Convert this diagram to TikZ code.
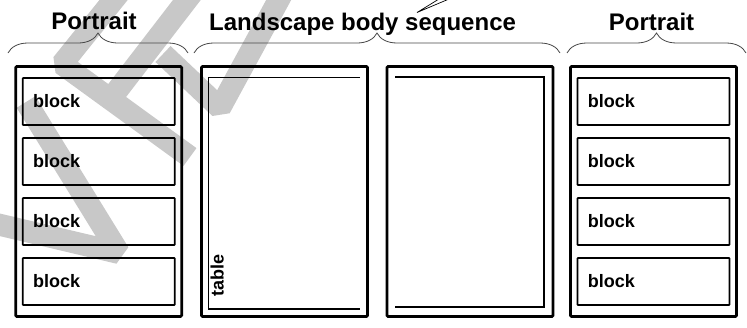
\documentclass[tikz,border=0pt]{standalone}
\usepackage{fontspec}
\setmainfont{Liberation Sans}
\usetikzlibrary{decorations.pathreplacing}
\definecolor{wmgray}{RGB}{200,200,200}
\definecolor{bracegray}{RGB}{70,70,70}
\begin{document}
\begin{tikzpicture}[x=1pt,y=-1pt,
  wmark/.style={draw=wmgray, line width=22pt, line join=bevel, line cap=butt},
  pagebox/.style={draw, line width=2.8pt, rounded corners=1.2pt, minimum width=166pt, minimum height=250pt, inner sep=0pt},
  blockbox/.style={draw, line width=1.7pt, rounded corners=0.6pt, minimum width=152pt, minimum height=47pt, text width=131pt, inner xsep=10.5pt, inner ysep=0pt, align=left, font=\fontsize{18}{20}\selectfont\bfseries},
  lbl/.style={inner sep=0pt, font=\fontsize{24}{28}\selectfont\bfseries},
  framelines/.style={line width=1.6pt},
  bracestyle/.style={draw=bracegray, line width=0.8pt, decorate, decoration={brace, amplitude=20pt}},
  pointer/.style={line width=0.7pt}]
\useasboundingbox (0,0) rectangle (747,327);
% watermark
\begin{scope}
\clip (0,0) rectangle (747,327);
\draw[wmark] (26,102) -- (119,253) -- (-12,222);
\draw[wmark] (120,-8) -- (62,64) -- (190,157);
\draw[wmark] (193,-8) -- (106,105);
\draw[wmark] (163,54) -- (220,108) -- (283,-8);
\end{scope}
% labels
\node[lbl, anchor=base] (p1) at (94,29.5) {Portrait};
\node[lbl, anchor=base west] (ls) at (209,30) {Landscape body sequence};
\node[lbl, anchor=base] (p2) at (651.5,30) {Portrait};
% braces
\coordinate (b1s) at (8,53); \coordinate (b1e) at (188,53);
\coordinate (b2s) at (194,53); \coordinate (b2e) at (560,53);
\coordinate (b3s) at (567,53); \coordinate (b3e) at (746,53);
\draw[bracestyle] (b1s) -- (b1e);
\draw[bracestyle] (b2s) -- (b2e);
\draw[bracestyle] (b3s) -- (b3e);
% pointer near "sequence"
\coordinate (ptip) at (417,12.5);
\coordinate (pa) at (439,-1);
\coordinate (pb) at (449,-1);
\draw[pointer] (pa) -- (ptip) -- (pb);
% pages
\node[pagebox] (pg1) at (98.7,191.5) {};
\node[pagebox] (pg2) at (284.5,191.5) {};
\node[pagebox] (pg3) at (470,191.5) {};
\node[pagebox] (pg4) at (653.5,191.5) {};
% left portrait blocks
\node[blockbox] (la) at (98.7,101.5) {block};
\node[blockbox] (lb) at (98.7,161.5) {block};
\node[blockbox] (lc) at (98.7,221.5) {block};
\node[blockbox] (ld) at (98.7,281.5) {block};
% right portrait blocks
\node[blockbox] (ra) at (653.4,101.5) {block};
\node[blockbox] (rb) at (653.4,161.5) {block};
\node[blockbox] (rc) at (653.4,221.5) {block};
\node[blockbox] (rd) at (653.4,281.5) {block};
% landscape frame 1
\coordinate (f1a) at (360,77.5); \coordinate (f1b) at (208.5,77.5);
\coordinate (f1c) at (208.5,309); \coordinate (f1d) at (360,309);
\draw[framelines] (f1a) -- (f1b) -- (f1c) -- (f1d);
\node[rotate=90, anchor=base west, inner sep=0pt, font=\fontsize{18}{20}\selectfont\bfseries] (tbl) at (223.5,297) {table};
% landscape frame 2
\coordinate (f2a) at (395,77); \coordinate (f2b) at (544,77);
\coordinate (f2c) at (544,307); \coordinate (f2d) at (395,307);
\draw[framelines] (f2a) -- (f2b) -- (f2c) -- (f2d);
\end{tikzpicture}
\end{document}
